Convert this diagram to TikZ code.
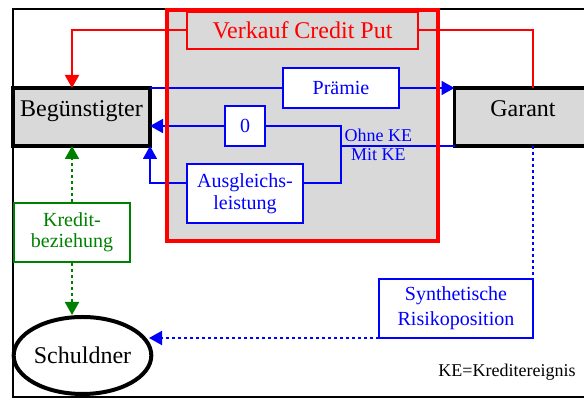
\documentclass[tikz,border=0pt]{standalone}
\usepackage{fontspec}
\setmainfont{Liberation Serif}
\usetikzlibrary{fit,positioning,calc,shapes.geometric,arrows.meta}

\begin{document}
\begin{tikzpicture}[x=0.5pt, y=-0.5pt,
		>={Triangle[length=6.5pt,width=7pt]},
		big/.style={font=\fontsize{12}{14}\selectfont},
		small/.style={font=\fontsize{10}{12}\selectfont},
		party/.style={draw, fill=gray!30, line width=1.7pt, inner sep=0pt, outer sep=0pt, minimum width=68.5pt,
			minimum height=29pt, text height=8pt, text depth=8pt, big},
		bluebox/.style={draw=blue, fill=white, text=blue, line width=0.8pt, inner sep=0pt, outer sep=0pt, align=center, small},
		blueline/.style={blue, line width=0.8pt},
		dots/.style={line width=1pt, dash pattern=on 1.5pt off 1.5pt}]
		\useasboundingbox (0,0) rectangle (584,399);
		\draw[line width=1pt] (13,9) rectangle (586,397);
		\node[fit={(167,10) (438,241)}, fill=gray!30, inner sep=0pt] (cp) {};
		\node[draw=red, line width=1pt, text=red, inner sep=0pt, minimum width=115.5pt, minimum height=18.5pt, big] (title) at (302.5,30.5) {Verkauf Credit Put};
		\node[party] (beg) at (81.5,117) {Begünstigter};
		\node[party] (gar) at (523,117) {Garant};
		\node[bluebox, minimum width=58pt, minimum height=20pt] (praemie) at (341,88) {Prämie};
		\node[bluebox, minimum width=20pt, minimum height=20pt] (null) at (245,126) {0};
		\node[bluebox, minimum width=58pt, minimum height=29.5pt, font=\fontsize{10}{11}\selectfont] (ausgl) at (245,193.5) {Ausgleichs-\\leistung};
		\node[bluebox, minimum width=77pt, minimum height=29.5pt, font=\fontsize{10}{12.5}\selectfont] (synth) at (456,308.5) {Synthetische\\Risikoposition};
		\node[draw=green!50!black, text=green!50!black, line width=0.8pt, inner sep=0pt, align=center,
			minimum width=58pt, minimum height=29.5pt, font=\fontsize{10}{10.5}\selectfont] (kredit) at (72,232.5) {Kredit-\\beziehung};
		\node[ellipse, draw, line width=2pt, minimum width=67.5pt, minimum height=38.5pt, inner sep=0pt, big] (schuldner) at (82.5,355.5) {Schuldner};
		\node[font=\fontsize{9}{11}\selectfont] (ke) at (507,372) {KE=Kreditereignis};
		\coordinate (s1) at (341,126);
		\coordinate (s2) at (341,183);
		\coordinate (sch) at (149,338);
		\draw[red, line width=1pt, ->] (title.west) -| (kredit.north |- beg.north);
		\draw[red, line width=1pt] (title.east) -| (synth.east |- gar.north);
		\draw[blueline] (beg.north east) -- (praemie.west);
		\draw[blueline, ->] (praemie.east) -- (gar.north west);
		\draw[blueline, ->] (null.west) -- (null.west -| beg.east);
		\draw[blueline] (null.east) -- (s1) -- (s2) -- (s2 -| ausgl.east);
		\draw[blueline, ->] (s2 -| ausgl.west) -| (beg.south east);
		\draw[blueline] (gar.south west) -- (gar.south west -| s1)
			node[pos=0.67, above, inner sep=2pt, text=blue, font=\fontsize{9}{11}\selectfont] {Ohne KE}
			node[pos=0.67, below, inner sep=1pt, text=blue, font=\fontsize{9}{11}\selectfont] {Mit KE};
		\draw[green!50!black, dots, ->] (kredit.north) -- (kredit.north |- beg.south);
		\draw[green!50!black, dots, ->] (kredit.south) -- (kredit.south |- schuldner.north);
		\draw[blue, dots] (synth.east |- gar.south) -- (synth.north east);
		\draw[blue, dots, ->] (synth.south west) -- (sch);
		\draw[red, line width=2pt] (cp.north west) rectangle (cp.south east);
	\end{tikzpicture}
\end{document}
